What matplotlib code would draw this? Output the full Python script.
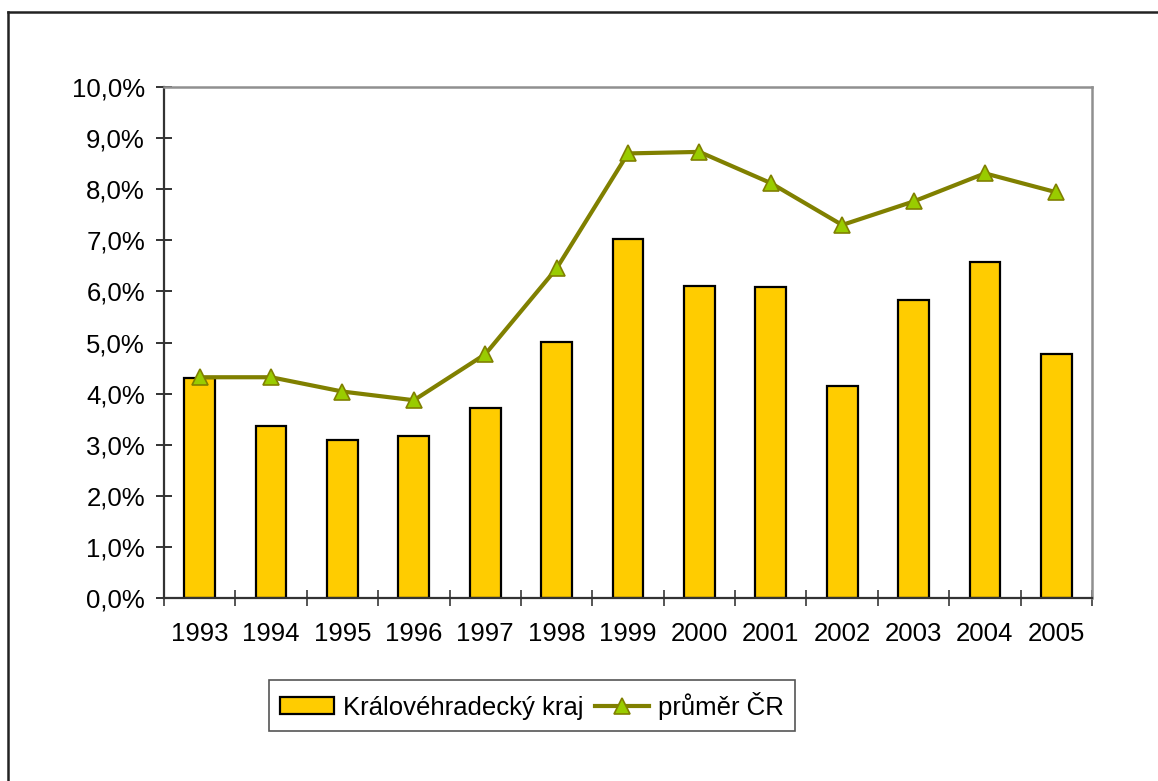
import matplotlib
matplotlib.use("Agg")
import matplotlib.pyplot as plt
from matplotlib.lines import Line2D
from matplotlib.ticker import FuncFormatter, FixedLocator
import numpy as np

plt.rcParams['font.family'] = ['Liberation Sans', 'DejaVu Sans']

years = ["1993", "1994", "1995", "1996", "1997", "1998", "1999",
         "2000", "2001", "2002", "2003", "2004", "2005"]
kraj = [4.31, 3.37, 3.09, 3.17, 3.72, 5.01, 7.02, 6.11, 6.08, 4.15, 5.84, 6.58, 4.78]
prumer = [4.32, 4.32, 4.04, 3.87, 4.77, 6.45, 8.70, 8.73, 8.12, 7.30, 7.76, 8.31, 7.94]
series_names = ["Královéhradecký kraj", "průměr ČR"]

W, H = 1158, 781
FS = 18.5
fig = plt.figure(figsize=(W / 100, H / 100), dpi=100)
ax = fig.add_axes([164 / W, 1 - 598 / H, (1092 - 164) / W, (598 - 87) / H])

x = np.arange(len(years))
bars = ax.bar(x, kraj, width=0.43, color="#FFCC00", edgecolor="black", linewidth=1.6,
              label=series_names[0], zorder=2)
line, = ax.plot(x, prumer, color="#808000", linewidth=3.0, marker="^", markersize=11,
                markerfacecolor="#99CC00", markeredgecolor="#808000", markeredgewidth=1.2,
                label=series_names[1], zorder=3)

ax.set_xlim(-0.5, len(years) - 0.5)
ax.set_ylim(0, 10)
ax.set_yticks(np.arange(0, 10.01, 1))
ax.yaxis.set_major_formatter(FuncFormatter(lambda v, p: f"{v:.1f}%".replace(".", ",")))
ax.set_xticks(x)
ax.set_xticklabels(years)
ax.xaxis.set_minor_locator(FixedLocator(np.arange(-0.5, len(years), 1)))

ax.tick_params(axis="y", direction="inout", length=11.5, width=1.4, color="#333333",
               labelsize=FS, pad=8)
ax.tick_params(axis="x", which="major", length=0, labelsize=FS, pad=17)
ax.tick_params(axis="x", which="minor", direction="inout", length=11.5, width=1.4,
               color="#555555")

for s in ["left", "bottom"]:
    ax.spines[s].set_color("#333333")
    ax.spines[s].set_linewidth(1.6)
for s in ["top", "right"]:
    ax.spines[s].set_color("#909090")
    ax.spines[s].set_linewidth(1.8)

leg = ax.legend(handles=[bars, line], labels=series_names,
                loc="center", bbox_to_anchor=(532 / W, 1 - 705.5 / H),
                bbox_transform=fig.transFigure, ncol=2, fontsize=FS,
                frameon=True, fancybox=False, edgecolor="#555555", framealpha=1,
                borderpad=0.45, handlelength=2.1, handleheight=0.6,
                handletextpad=0.35, columnspacing=0.45, borderaxespad=0)
leg.get_frame().set_linewidth(1.2)

# outer chart frame (partially visible)
fig.add_artist(Line2D([8 / W, 8 / W], [0, 1 - 12 / H], transform=fig.transFigure,
                      color="#222222", linewidth=1.8))
fig.add_artist(Line2D([8 / W, 1], [1 - 12 / H, 1 - 12 / H], transform=fig.transFigure,
                      color="#222222", linewidth=1.8))

fig.savefig("out.png", dpi=100)
